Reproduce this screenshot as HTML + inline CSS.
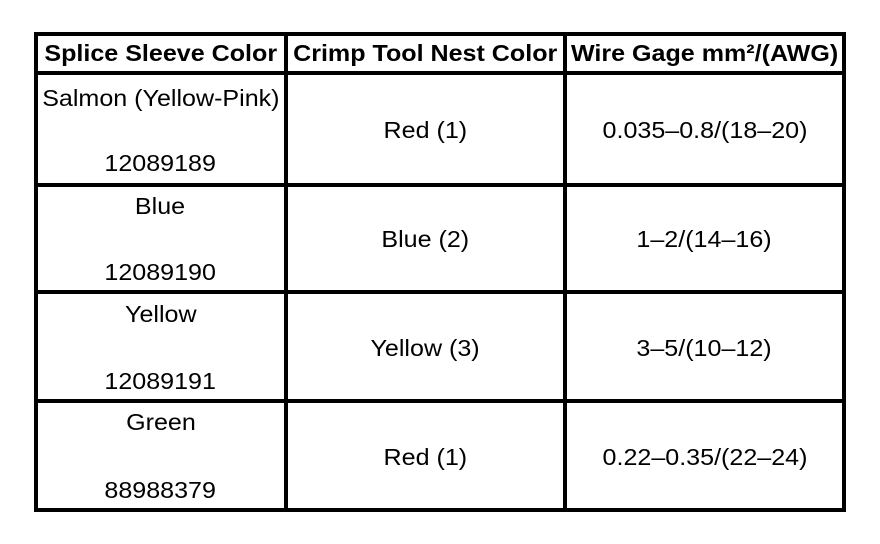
<!DOCTYPE html>
<html><head><meta charset="utf-8"><style>
body{margin:0;width:880px;height:544px;background:#fff;position:relative;overflow:hidden;font-family:"Liberation Sans",Arial,sans-serif;color:#000}
.h{position:absolute;background:#000;left:34px;width:812px;height:4px}
.v{position:absolute;background:#000;top:32px;height:480px;width:4px}
.t{position:absolute;height:24px;line-height:24px;text-align:center;font-size:23px;white-space:nowrap}
.t span{display:inline-block;transform:scaleX(1.09);transform-origin:center}
.b{font-weight:bold}
.c1{left:37px;width:247px}.c2{left:288px;width:275px}.c3{left:567px;width:275px}
</style></head><body>
<div class="h" style="top:32px"></div>
<div class="h" style="top:71px"></div>
<div class="h" style="top:183px"></div>
<div class="h" style="top:290px"></div>
<div class="h" style="top:399px"></div>
<div class="h" style="top:508px"></div>
<div class="v" style="left:34px"></div>
<div class="v" style="left:284px"></div>
<div class="v" style="left:563px"></div>
<div class="v" style="left:842px"></div>

<div class="t b c1" style="top:41px"><span>Splice Sleeve Color</span></div>
<div class="t b c2" style="top:41px"><span>Crimp Tool Nest Color</span></div>
<div class="t b c3" style="top:41px"><span>Wire Gage mm²/(AWG)</span></div>

<div class="t c1" style="top:86px"><span>Salmon (Yellow-Pink)</span></div>
<div class="t c1" style="top:151px"><span>12089189</span></div>
<div class="t c2" style="top:118px"><span>Red (1)</span></div>
<div class="t c3" style="top:118px"><span>0.035–0.8/(18–20)</span></div>

<div class="t c1" style="top:194px"><span>Blue</span></div>
<div class="t c1" style="top:260px"><span>12089190</span></div>
<div class="t c2" style="top:227px"><span>Blue (2)</span></div>
<div class="t c3" style="top:227px"><span>1–2/(14–16)</span></div>

<div class="t c1" style="top:302px"><span>Yellow</span></div>
<div class="t c1" style="top:369px"><span>12089191</span></div>
<div class="t c2" style="top:336px"><span>Yellow (3)</span></div>
<div class="t c3" style="top:336px"><span>3–5/(10–12)</span></div>

<div class="t c1" style="top:410px"><span>Green</span></div>
<div class="t c1" style="top:478px"><span>88988379</span></div>
<div class="t c2" style="top:445px"><span>Red (1)</span></div>
<div class="t c3" style="top:445px"><span>0.22–0.35/(22–24)</span></div>
</body></html>
